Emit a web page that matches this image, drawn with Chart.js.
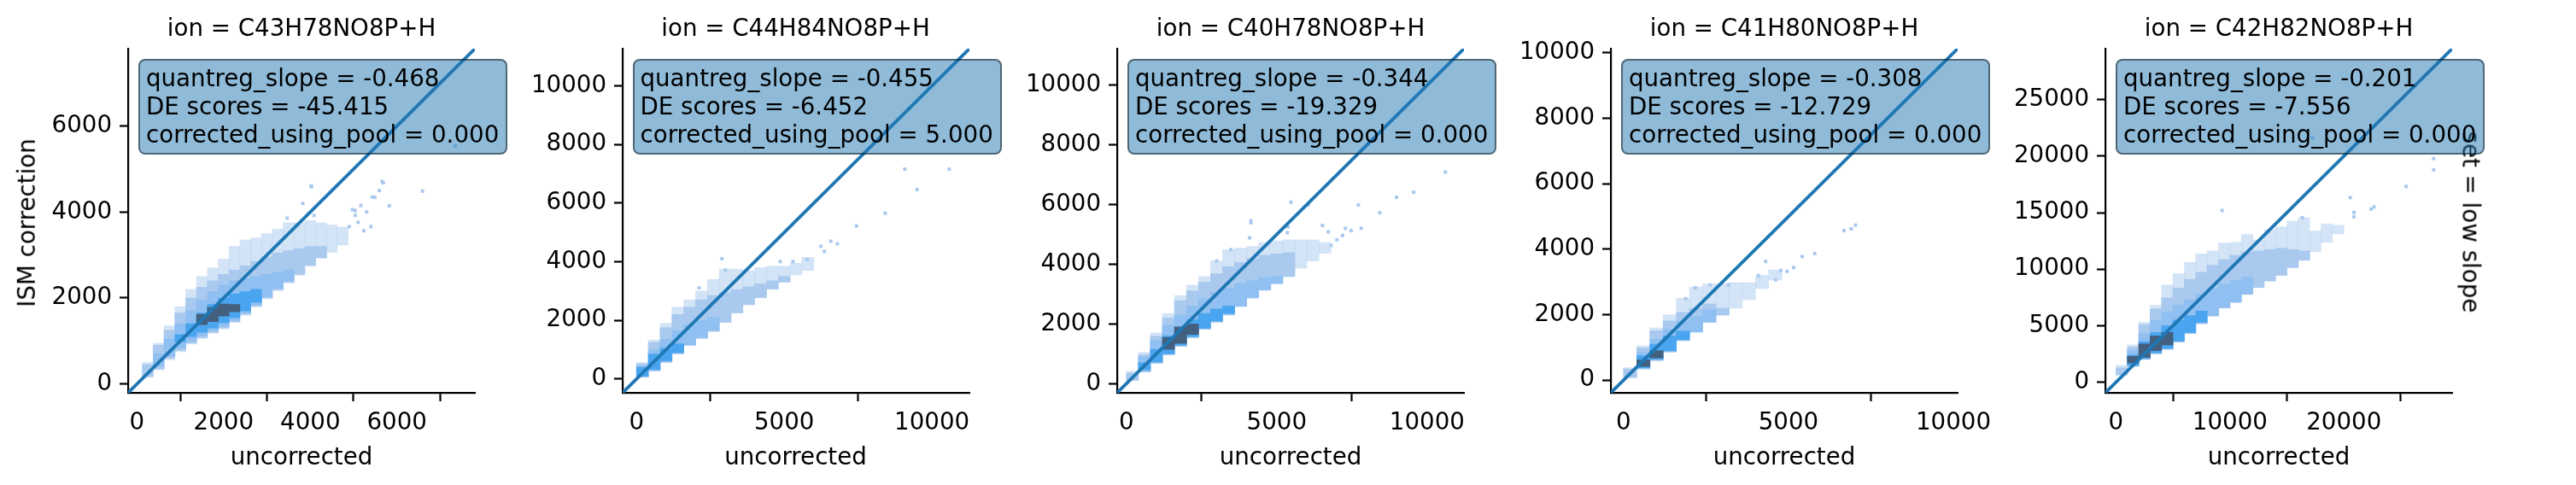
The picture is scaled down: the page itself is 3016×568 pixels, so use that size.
<!DOCTYPE html>
<html lang="en">
<head>
  <meta charset="UTF-8" />
  <title>ISM correction vs uncorrected</title>
  <script src="https://cdn.jsdelivr.net/npm/chart.js"></script>
  <style>
    body {
      margin: 0;
      width: 3016px;
      height: 568px;
      background: #fff;
      position: relative;
      overflow: hidden;
      font-family: 'DejaVu Sans', sans-serif;
      color: #000;
    }
    canvas { position: absolute; }
    .lbl {
      position: absolute;
      font-size: 27.7px;
      line-height: 32px;
      white-space: nowrap;
    }
    .title, .xlabel { text-align: center; }
    .rot { transform-origin: center center; }
    .stats {
      position: absolute;
      font-size: 27.7px;
      line-height: 33.2px;
      white-space: pre;
      padding: 4px 8px 4px 7px;
      background: rgba(31, 119, 180, 0.5);
      border: 2px solid rgba(0, 0, 0, 0.45);
      border-radius: 8px;
    }
  </style>
</head>
<body>
  <script>
    // ---- chart values ----
    const ions = ['C43H78NO8P+H', 'C44H84NO8P+H', 'C40H78NO8P+H', 'C41H80NO8P+H', 'C42H82NO8P+H'];
    const quantregSlope = [-0.468, -0.455, -0.344, -0.308, -0.201];
    const deScores = [-45.415, -6.452, -19.329, -12.729, -7.556];
    const correctedUsingPool = [0, 5, 0, 0, 0];

    // same limits on both axes of each panel
    const axisLow = [-205, -470, -306, -385, -930];
    const axisHigh = [7800, 11270, 11225, 10130, 29500];

    const xTickVals = [
      [0, 2000, 4000, 6000],
      [0, 5000, 10000],
      [0, 5000, 10000],
      [0, 5000, 10000],
      [0, 10000, 20000]
    ];
    const yTickVals = [
      [0, 2000, 4000, 6000],
      [0, 2000, 4000, 6000, 8000, 10000],
      [0, 2000, 4000, 6000, 8000, 10000],
      [0, 2000, 4000, 6000, 8000, 10000],
      [0, 5000, 10000, 15000, 20000, 25000]
    ];

    // histogram columns (uncorrected bin centres) per panel
    const binCenters = [
      [250, 500, 750, 1000, 1250, 1500, 1750, 2000, 2250, 2500, 2750, 3000, 3250, 3500, 3750, 4000, 4250, 4500, 4750],
      [200, 600, 1000, 1400, 1800, 2200, 2600, 3000, 3400, 3800, 4200, 4600, 5000, 5400, 5800],
      [200, 600, 1000, 1400, 1800, 2200, 2600, 3000, 3400, 3800, 4200, 4600, 5000, 5400, 5800, 6200, 6600],
      [200, 600, 1000, 1400, 1800, 2200, 2600, 3000, 3400, 3800, 4200, 4600],
      [500, 1500, 2500, 3500, 4500, 5500, 6500, 7500, 8500, 9500, 10500, 11500, 12500, 13500, 14500, 15500, 16500, 17500, 18500, 19500]
    ];

    // ISM correction ranges per column: scattered single-count cells
    const sparseBand = [
      [[150, 500], [330, 950], [560, 1350], [750, 1800], [930, 2200], [1060, 2500], [1180, 2700], [1280, 2900], [1430, 3200], [1600, 3350], [1800, 3400], [1980, 3500], [2170, 3600], [2350, 3750], [2530, 3750], [2740, 3800], [2920, 3750], [3060, 3700], [3230, 3650]],
      [[60, 560], [270, 1330], [560, 1900], [850, 2450], [1140, 2700], [1380, 3000], [1620, 3400], [1930, 3750], [2250, 3750], [2530, 3700], [2770, 3800], [3060, 3850], [3300, 3850], [3550, 3950], [3700, 4150]],
      [[110, 420], [395, 1050], [680, 1700], [960, 2350], [1250, 2950], [1530, 3300], [1820, 3590], [2060, 4110], [2300, 4490], [2580, 4540], [2870, 4600], [3130, 4730], [3350, 4780], [3590, 4820], [3870, 4820], [4110, 4820], [4370, 4730]],
      [[80, 380], [340, 1050], [600, 1600], [860, 2000], [1200, 2500], [1460, 2850], [1770, 2940], [1990, 2940], [2200, 2980], [2460, 2980], [2800, 3200], [3060, 3370]],
      [[600, 1500], [1400, 3300], [2000, 5300], [2500, 6800], [2900, 8600], [3550, 9600], [4300, 10600], [5180, 11360], [5860, 11610], [6570, 12320], [7070, 12370], [7770, 13070], [8380, 12600], [8960, 13500], [9460, 13750], [10140, 14250], [10790, 14550], [11550, 13370], [12370, 14000], [13120, 13880]]
    ];
    // solid low-count area
    const lightBand = [
      [[180, 450], [350, 900], [600, 1250], [780, 1650], [950, 2000], [1080, 2250], [1200, 2400], [1300, 2550], [1450, 2650], [1620, 2750], [1810, 2850], [2000, 2950], [2190, 3050], [2370, 3100], [2550, 3150], [2760, 3200], [2940, 3200], null, null],
      [[60, 520], [280, 1250], [570, 1750], [860, 2200], [1150, 2450], [1390, 2700], [1630, 2850], [1940, 2950], [2260, 3050], [2540, 3150], [2780, 3250], [3070, 3350], [3310, 3500], null, null],
      [[110, 350], [395, 970], [680, 1590], [970, 2200], [1250, 2780], [1540, 3110], [1820, 3400], [2060, 3680], [2300, 3920], [2590, 4060], [2870, 4200], [3130, 4300], [3350, 4350], [3590, 4390], null, null, null],
      [[80, 340], [340, 990], [600, 1510], [860, 1810], [1210, 2070], [1470, 2200], [1770, 2330], [1990, 2200], null, null, null, null],
      [[670, 1280], [1410, 3100], [2040, 5100], [2540, 6500], [2920, 7460], [3550, 8340], [4300, 9100], [5180, 9730], [5860, 10350], [6570, 10840], [7070, 11230], [7770, 11490], [8380, 11610], [8960, 11740], [9460, 11860], [10140, 11740], [10790, 11610], null, null, null]
    ];
    const midBand = [
      [null, [420, 700], [650, 1050], [830, 1400], [1000, 1700], [1120, 1950], [1240, 2150], [1340, 2300], [1480, 2400], [1650, 2450], [1840, 2500], [2030, 2550], [2220, 2600], [2390, 2650], null, null, null, null, null],
      [[80, 450], [300, 1000], [600, 1350], [880, 1650], [1170, 1850], [1420, 2000], [1660, 2100], null, null, null, null, null, null, null, null],
      [null, [420, 900], [700, 1450], [990, 1950], [1270, 2300], [1560, 2600], [1840, 2850], [2080, 3050], [2320, 3200], [2600, 3350], [2890, 3450], [3150, 3550], [3370, 3600], null, null, null, null],
      [null, [360, 850], [620, 1250], [880, 1550], [1220, 1800], [1480, 1950], [1780, 2150], null, null, null, null, null],
      [null, [1450, 2800], [2050, 4300], [2550, 5500], [2950, 6200], [3600, 6800], [4350, 7300], [5250, 7800], [5900, 8300], [6600, 8700], [7100, 9000], [7800, 9300], null, null, null, null, null, null, null, null]
    ];
    const brightBand = [
      [null, null, null, [980, 1150], [1100, 1400], [1200, 1650], [1300, 1850], [1420, 2000], [1540, 2100], [1700, 2150], [1900, 2200], null, null, null, null, null, null, null, null],
      [[100, 400], [320, 850], [620, 1050], [900, 1200], null, null, null, null, null, null, null, null, null, null, null],
      [null, [460, 700], [730, 1150], [1000, 1600], [1290, 1900], [1580, 2150], [1860, 2350], [2100, 2500], [2350, 2600], null, null, null, null, null, null, null, null],
      [null, [380, 750], [640, 1100], [900, 1350], [1240, 1500], null, null, null, null, null, null, null],
      [null, [1500, 2400], [2100, 3600], [2600, 4400], [3000, 5000], [3650, 5500], [4400, 5900], [5300, 6300], null, null, null, null, null, null, null, null, null, null, null, null]
    ];
    // densest cells
    const coreBand = [
      [null, null, null, null, null, [1380, 1620], [1450, 1780], [1580, 1860], [1680, 1850], null, null, null, null, null, null, null, null, null, null],
      [null, null, null, null, null, null, null, null, null, null, null, null, null, null, null],
      [null, null, null, [1150, 1550], [1350, 1900], [1650, 2000], null, null, null, null, null, null, null, null, null, null, null],
      [null, [420, 620], [680, 900], null, null, null, null, null, null, null, null, null],
      [null, [1700, 2300], [2200, 3400], [2800, 4100], [3300, 4400], null, null, null, null, null, null, null, null, null, null, null, null, null, null, null]
    ];

    // isolated cells away from the main cloud [uncorrected, ISM correction]
    const outlierCells = [
      [[3466, 3858], [3826, 4199], [4020, 4611], [4088, 3923], [4026, 4586], [4900, 3661], [4971, 4055], [5037, 3923], [5036, 4036], [5105, 3760], [5168, 4153], [5236, 3563], [5300, 4003], [5400, 3661], [5430, 4350], [5490, 4340], [5594, 4500], [5660, 4710], [5684, 4679], [5823, 4146], [6590, 4486], [7350, 5541]],
      [[2118, 3112], [2890, 4104], [3006, 3719], [4864, 4007], [5297, 4007], [5780, 4075], [6242, 4528], [6358, 4355], [6578, 4701], [6800, 4615], [7445, 5222], [8419, 5655], [9083, 7158], [9497, 6464], [10586, 7158]],
      [[3000, 4108], [3474, 4489], [4094, 4888], [4143, 5394], [4143, 5460], [5351, 5060], [5380, 5251], [5475, 6080], [6046, 5985], [6523, 5300], [6714, 5088], [6808, 4631], [7000, 4822], [7188, 4965], [7285, 5203], [7474, 5128], [7714, 5985], [7808, 5203], [8428, 5728], [8980, 6243], [9551, 6414], [10608, 7088]],
      [[1885, 2487], [2170, 2824], [2622, 2910], [3183, 2910], [4092, 3196], [4309, 3629], [4611, 3066], [4767, 3351], [4958, 3326], [5155, 3441], [5416, 3777], [5797, 3871], [6688, 4573], [6905, 4624], [7035, 4737]],
      [[9313, 15185], [16354, 14558], [17237, 21622], [20558, 16339], [20882, 15011], [20882, 14634], [22392, 15312], [22641, 15509], [25463, 17320], [27879, 18784], [27879, 19788]]
    ];

    // ---- layout and styling ----
    const AX_LEFT = [150, 728.5, 1308, 1886, 2465];
    const AX_TOP = 57, AX_W = 406, AX_H = 403;
    const Y_SPACE = 130, PAD_TOP = 27, PAD_RIGHT = 50, CANVAS_TOP = 30;
    const CANVAS_H = 568 - CANVAS_TOP;
    const FONT = "'DejaVu Sans', sans-serif";

    const layers = [
      { band: sparseBand, color: 'rgba(168, 201, 239, 0.5)', order: 6 },
      { band: lightBand, color: '#a9c9ef', order: 5 },
      { band: midBand, color: '#8fc0f1', order: 4 },
      { band: brightBand, color: '#4aa5f0', order: 3 },
      { band: coreBand, color: '#44607f', order: 2 }
    ];

    Chart.defaults.font.family = FONT;

    function bandData(cols, band) {
      const out = [];
      band.forEach((r, j) => { if (r) out.push({ x: cols[j], y: r }); });
      return out;
    }

    function addText(cls, text, css) {
      const d = document.createElement('div');
      d.className = cls;
      d.textContent = text;
      Object.assign(d.style, css);
      document.body.appendChild(d);
      return d;
    }

    function axisOpts(i, ticks, isX) {
      return {
        type: 'linear',
        min: axisLow[i],
        max: axisHigh[i],
        offset: false,
        afterBuildTicks: s => { s.ticks = ticks.map(v => ({ value: v })); },
        afterFit: s => { if (isX) s.height = CANVAS_H - PAD_TOP - AX_H; else s.width = Y_SPACE; },
        grid: { display: true, drawOnChartArea: false, drawTicks: true, tickLength: 10, tickWidth: 2.2, tickColor: '#000' },
        border: { display: true, color: '#000', width: 2.2 },
        ticks: { color: '#000', font: { size: 27.7, family: FONT }, padding: 9, maxRotation: 0, autoSkip: false, callback: v => String(v) }
      };
    }

    ions.forEach((ion, i) => {
      const canvas = document.createElement('canvas');
      const cw = Y_SPACE + AX_W + PAD_RIGHT;
      canvas.width = cw;
      canvas.height = CANVAS_H;
      canvas.style.left = (AX_LEFT[i] - Y_SPACE) + 'px';
      canvas.style.top = CANVAS_TOP + 'px';
      canvas.style.width = cw + 'px';
      canvas.style.height = CANVAS_H + 'px';
      document.body.appendChild(canvas);

      const datasets = layers.map(l => ({
        type: 'bar',
        data: bandData(binCenters[i], l.band[i]),
        backgroundColor: l.color,
        borderWidth: 0,
        grouped: false,
        barPercentage: 1,
        categoryPercentage: 1,
        order: l.order
      }));
      datasets.push({
        type: 'scatter',
        data: outlierCells[i].map(c => ({ x: c[0], y: c[1] })),
        pointStyle: 'rect',
        pointRadius: 2.8,
        backgroundColor: '#a9c9ef',
        borderWidth: 0,
        order: 5
      });
      datasets.push({
        type: 'line',
        data: [{ x: axisLow[i], y: axisLow[i] }, { x: axisHigh[i], y: axisHigh[i] }],
        borderColor: '#1f77b4',
        borderWidth: 3.8,
        pointRadius: 0,
        order: 0
      });

      new Chart(canvas, {
        type: 'bar',
        data: { datasets },
        options: {
          responsive: false,
          animation: false,
          devicePixelRatio: 1,
          layout: { padding: { left: 0, top: PAD_TOP, right: PAD_RIGHT, bottom: 0 } },
          plugins: { legend: { display: false }, tooltip: { enabled: false }, title: { display: false } },
          scales: {
            x: axisOpts(i, xTickVals[i], true),
            y: axisOpts(i, yTickVals[i], false)
          }
        }
      });

      addText('lbl title', 'ion = ' + ion, { left: AX_LEFT[i] + 'px', width: AX_W + 'px', top: '17px' });
      addText('lbl xlabel', 'uncorrected', { left: AX_LEFT[i] + 'px', width: AX_W + 'px', top: '519px' });
    });

    // y label on the first panel
    const yl = addText('lbl rot', 'ISM correction', {});
    yl.style.left = (32 - yl.offsetWidth / 2) + 'px';
    yl.style.top = (261 - yl.offsetHeight / 2) + 'px';
    yl.style.transform = 'rotate(-90deg)';

    // row margin title on the right
    const rl = addText('lbl rot', 'set = low slope', {});
    rl.style.left = (2892 - rl.offsetWidth / 2) + 'px';
    rl.style.top = (260 - rl.offsetHeight / 2) + 'px';
    rl.style.transform = 'rotate(90deg)';

    // stats boxes drawn above everything
    ions.forEach((ion, i) => {
      const txt = 'quantreg_slope = ' + quantregSlope[i].toFixed(3) +
        '\nDE scores = ' + deScores[i].toFixed(3) +
        '\ncorrected_using_pool = ' + correctedUsingPool[i].toFixed(3);
      addText('stats', txt, { left: (AX_LEFT[i] + 12) + 'px', top: '69px' });
    });
  </script>
</body>
</html>
